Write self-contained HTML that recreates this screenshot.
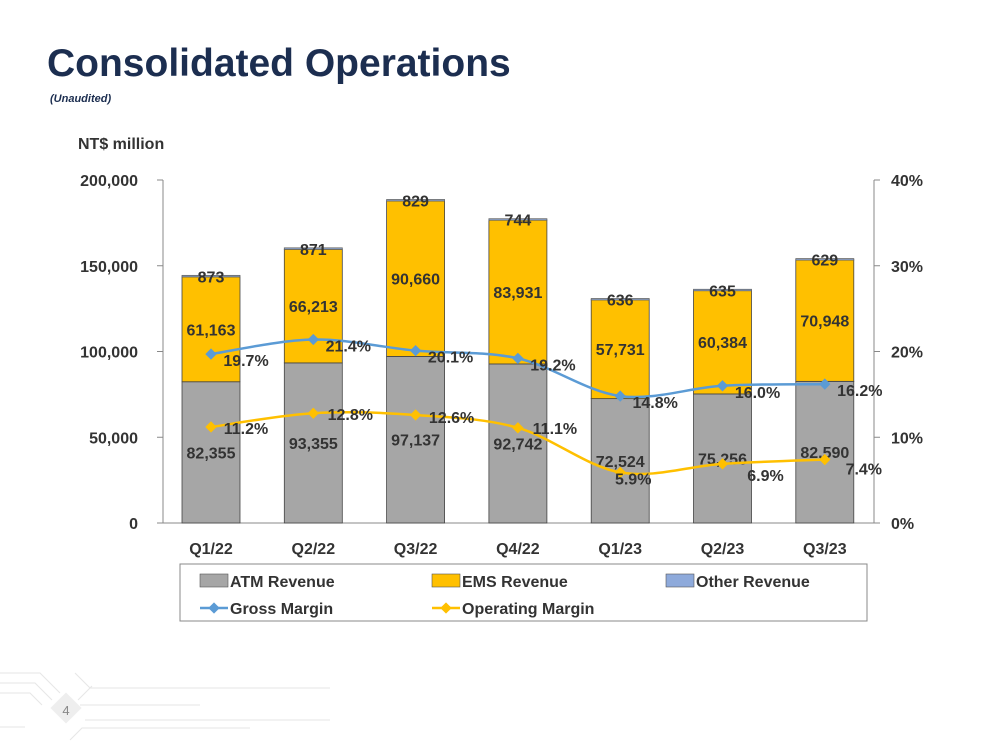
<!DOCTYPE html>
<html><head><meta charset="utf-8"><style>
body{margin:0;width:1000px;height:752px;background:#fff;overflow:hidden;font-family:"Liberation Sans",sans-serif;position:relative}
#title{position:absolute;left:47px;top:42px;font-size:39px;font-weight:bold;color:#1c2e50;letter-spacing:0px}
#sub{position:absolute;left:50px;top:93px;font-size:11px;font-style:italic;font-weight:bold;color:#1c2e50}
svg text{font-family:"Liberation Sans",sans-serif;font-weight:bold;fill:#333}
</style></head><body>
<div id="title">Consolidated Operations</div>
<div id="sub">(Unaudited)</div>
<svg id="chart" width="1000" height="752" style="position:absolute;left:0;top:0">
<g id="deco">
<path stroke="#e6e6e6" fill="none" d="M0 673 H40 L60 693 M0 683 H35 L52 700 M0 693 H30 L42 705 M0 727 H25 M75 673 L90 688 H330 M78 700 L92 686 M80 705 H200 M85 720 H330 M70 740 L82 728 H250"/>
<rect x="55" y="697" width="22" height="22" transform="rotate(45 66 708)" fill="#eee"/>
<text x="66" y="715" text-anchor="middle" font-size="13" style="font-weight:normal;fill:#888">4</text>
</g>
<g id="plot"></g>
</svg>
<script>
const categories=["Q1/22","Q2/22","Q3/22","Q4/22","Q1/23","Q2/23","Q3/23"];
const atm=[82355,93355,97137,92742,72524,75256,82590];
const ems=[61163,66213,90660,83931,57731,60384,70948];
const other=[873,871,829,744,636,635,629];
const gross=[19.7,21.4,20.1,19.2,14.8,16.0,16.2];
const opm=[11.2,12.8,12.6,11.1,5.9,6.9,7.4];
const leftTicks=[0,50000,100000,150000,200000];
const rightTicks=[0,10,20,30,40];
const opLabelDx=[35,37,36,37,13,43,39], opLabelDy=[1,1,2,0,6,11,9];
const NS="http://www.w3.org/2000/svg";
const g=document.getElementById('plot');
const x0=163,x1=874,yTop=180,yBot=523;
const yL=v=>yBot-(v/200000)*(yBot-yTop);
const yR=v=>yBot-(v/40)*(yBot-yTop);
const step=102.3;
const xC=i=>211+step*i;
const bw=58;
function el(t,a,txt){const e=document.createElementNS(NS,t);for(const k in a)e.setAttribute(k,a[k]);if(txt!==undefined)e.textContent=txt;g.appendChild(e);return e;}
function fmt(v){return v.toLocaleString('en-US');}
let a=el('line',{x1:x0,y1:yTop,x2:x0,y2:yBot,stroke:'#888'});

a=el('line',{x1:x1,y1:yTop,x2:x1,y2:yBot,stroke:'#888'});

a=el('line',{x1:x0,y1:yBot,x2:x1,y2:yBot,stroke:'#888'});

leftTicks.forEach(v=>{el('line',{x1:x0-6,y1:yL(v),x2:x0,y2:yL(v),stroke:'#888'});
 const t=el('text',{x:x0-25,y:yL(v)+6,'text-anchor':'end','font-size':16},fmt(v));
 });
rightTicks.forEach(v=>{el('line',{x1:x1,y1:yR(v),x2:x1+6,y2:yR(v),stroke:'#888'});
 const t=el('text',{x:x1+17,y:yR(v)+6,'font-size':16},v+'%');
 });
let ut=el('text',{x:78,y:149,'font-size':16},'NT$ million');

categories.forEach((c,i)=>{
 const cx=xC(i),l=cx-bw/2;
 let r=el('rect',{x:l,y:yL(atm[i]),width:bw,height:yBot-yL(atm[i]),fill:'#a6a6a6',stroke:'#444','stroke-width':0.8});
 
 const et=atm[i]+ems[i];
 r=el('rect',{x:l,y:yL(et),width:bw,height:yL(atm[i])-yL(et),fill:'#ffc000',stroke:'#444','stroke-width':0.8});
 
 const ot=et+other[i];
 r=el('rect',{x:l,y:yL(ot),width:bw,height:Math.max(1.5,yL(et)-yL(ot)),fill:'#8eaadb',stroke:'#666','stroke-width':0.8});
 
 let t=el('text',{x:cx,y:(yL(atm[i])+yBot)/2+6,'text-anchor':'middle','font-size':16},fmt(atm[i]));
 
 t=el('text',{x:cx,y:(yL(et)+yL(atm[i]))/2+6,'text-anchor':'middle','font-size':16},fmt(ems[i]));
 
 t=el('text',{x:cx,y:yL(ot)+7,'text-anchor':'middle','font-size':16},fmt(other[i]));
 
 t=el('text',{x:cx,y:yBot+31,'text-anchor':'middle','font-size':16},c);
 
});
function smooth(pts){let d='M'+pts[0][0]+' '+pts[0][1];
 for(let i=0;i<pts.length-1;i++){const p0=pts[Math.max(0,i-1)],p1=pts[i],p2=pts[i+1],p3=pts[Math.min(pts.length-1,i+2)];
  d+=` C${p1[0]+(p2[0]-p0[0])/6} ${p1[1]+(p2[1]-p0[1])/6} ${p2[0]-(p3[0]-p1[0])/6} ${p2[1]-(p3[1]-p1[1])/6} ${p2[0]} ${p2[1]}`;}
 return d;}
function series(vals,color,name,dx,dy){
 const pts=vals.map((v,i)=>[xC(i),yR(v)]);
 const p=el('path',{d:smooth(pts),fill:'none',stroke:color,'stroke-width':2.5});
 
 pts.forEach((q,i)=>{const m=el('rect',{x:q[0]-4,y:q[1]-4,width:8,height:8,fill:color,transform:`rotate(45 ${q[0]} ${q[1]})`});
  
  const t=el('text',{x:q[0]+dx(i),y:q[1]+dy(i)+6,'text-anchor':'middle','font-size':16},vals[i].toFixed(1)+'%');
  });
}
series(gross,'#5b9bd5','gross-margin',()=>35,()=>6);
series(opm,'#ffc000','operating-margin',i=>opLabelDx[i],i=>opLabelDy[i]);
let lb=el('rect',{x:180,y:564,width:687,height:57,fill:'#fff',stroke:'#888'});

const leg=[['ATM Revenue','#a6a6a6','box',200,581],['EMS Revenue','#ffc000','box',432,581],['Other Revenue','#8eaadb','box',666,581],['Gross Margin','#5b9bd5','line',200,608],['Operating Margin','#ffc000','line',432,608]];
leg.forEach(l=>{
 if(l[2]=='box'){el('rect',{x:l[3],y:l[4]-7,width:28,height:13,fill:l[1],stroke:'#555','stroke-width':0.6});}
 else{el('line',{x1:l[3],y1:l[4],x2:l[3]+28,y2:l[4],stroke:l[1],'stroke-width':2.5});
  el('rect',{x:l[3]+10,y:l[4]-4,width:8,height:8,fill:l[1],transform:`rotate(45 ${l[3]+14} ${l[4]})`});}
 const t=el('text',{x:l[3]+30,y:l[4]+6,'font-size':16},l[0]);
 
});
</script>
</body></html>
